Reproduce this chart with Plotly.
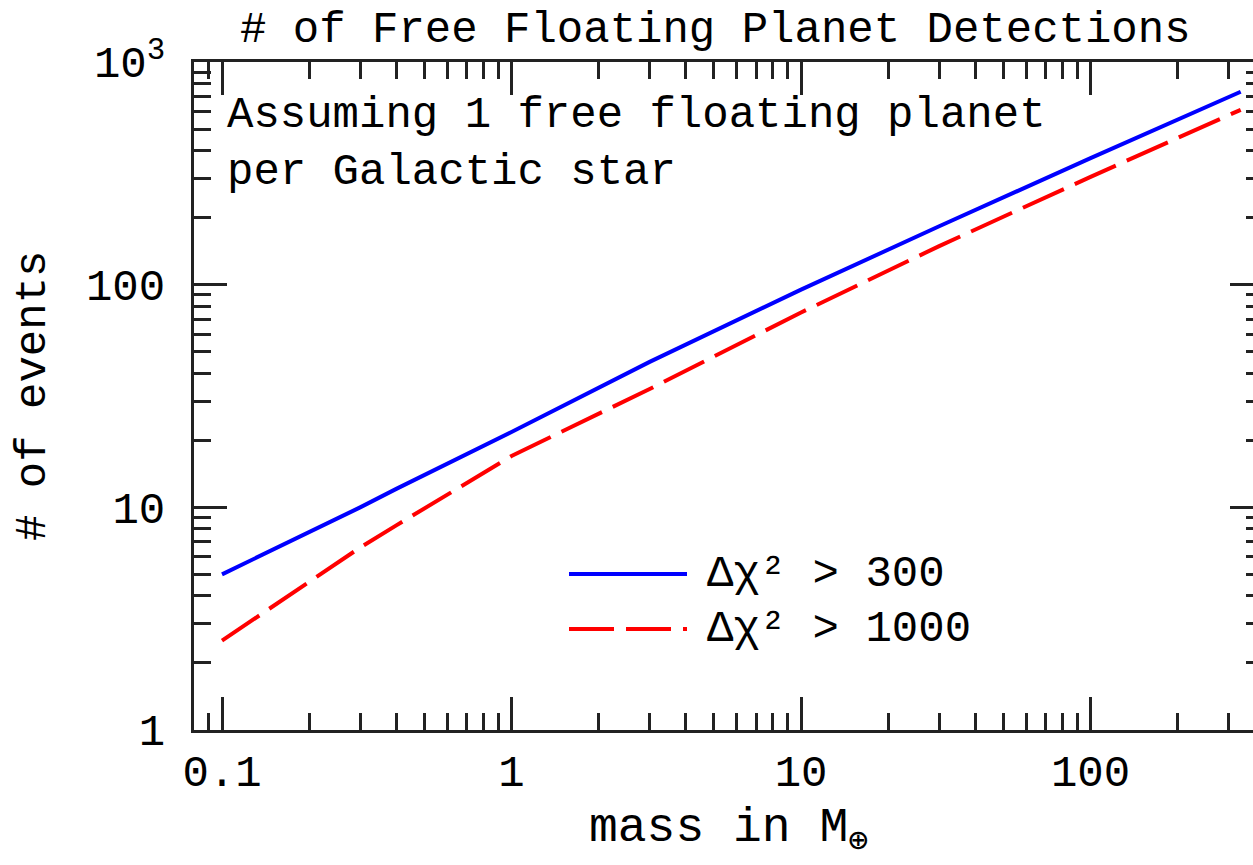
import plotly.graph_objects as go

# ---- data ----
mass = [0.1, 0.2, 0.3, 0.4, 1, 3, 10, 30, 100, 330]
events_300 = [5.0, 7.7, 10.0, 12.1, 21.8, 45, 95, 183, 370, 735]
events_1000 = [2.52, 4.6, 6.6, 8.3, 17, 34, 75, 149, 305, 610]

x_major = [0.1, 1, 10, 100]
x_major_text = ["0.1", "1", "10", "100"]
x_minor = [0.09] + [k * 0.1 for k in range(2, 10)] + [k for k in range(2, 10)] + \
          [k * 10 for k in range(2, 10)] + [200, 300]
y_major = [1, 10, 100, 1000]
y_major_text = ["1", "10", "100", "10<sup>3</sup>"]
y_minor = [k * m for m in (1, 10, 100) for k in range(2, 10)]

title = "# of Free Floating Planet Detections"
note1 = "Assuming 1 free floating planet"
note2 = "per Galactic star"
label1 = "Δχ² > 300"
label2 = "Δχ² > 1000"

FONT = "Liberation Mono, Courier New, monospace"
FS = 44

fig = go.Figure()
fig.add_trace(go.Scatter(x=mass, y=events_300, mode="lines",
                         line=dict(color="#0000ff", width=4), showlegend=False))
fig.add_trace(go.Scatter(x=mass, y=events_1000, mode="lines",
                         line=dict(color="#ff0000", width=4, dash="45px,12px"),
                         showlegend=False))
# helper trace so the right-side tick axis is drawn
fig.add_trace(go.Scatter(x=[1], y=[1], yaxis="y2", mode="markers",
                         marker=dict(opacity=0), hoverinfo="skip", showlegend=False))

xr = [-1.0967, 2.561]
yr = [0, 3]

fig.update_layout(
    width=1253, height=865,
    margin=dict(l=194, r=0, t=62, b=135),
    paper_bgcolor="white", plot_bgcolor="white",
    font=dict(family=FONT, size=FS, color="black"),
    showlegend=False,
    xaxis=dict(type="log", range=xr, showgrid=False, zeroline=False,
               showline=True, linecolor="#222", linewidth=3, mirror="ticks",
               ticks="inside", ticklen=33, tickwidth=3, tickcolor="#222",
               tickmode="array", tickvals=x_major, ticktext=x_major_text,
               ticklabelstandoff=0,
               minor=dict(ticks="inside", ticklen=17, tickwidth=3, tickcolor="#222",
                          tickmode="array", tickvals=x_minor, showgrid=False),
               tickfont=dict(family=FONT, size=FS)),
    yaxis=dict(type="log", range=yr, showgrid=False, zeroline=False,
               showline=True, linecolor="#222", linewidth=3, mirror=False,
               ticks="inside", ticklen=33, tickwidth=3, tickcolor="#222",
               tickmode="array", tickvals=y_major, ticktext=y_major_text,
               ticklabelstandoff=17,
               minor=dict(ticks="inside", ticklen=17, tickwidth=3, tickcolor="#222",
                          tickmode="array", tickvals=y_minor, showgrid=False),
               tickfont=dict(family=FONT, size=FS)),
    yaxis2=dict(type="log", range=yr, overlaying="y", side="right", anchor="x",
                showgrid=False, zeroline=False, showline=False,
                ticks="inside", ticklen=23, tickwidth=3, tickcolor="#222",
                tickmode="array", tickvals=y_major, showticklabels=False,
                minor=dict(ticks="inside", ticklen=7, tickwidth=3, tickcolor="#222",
                           tickmode="array", tickvals=y_minor, showgrid=False)),
)

W = 1253 - 194
H = 730 - 62
def px(x):
    return (x - 194) / W
def py(y):
    return (730 - y) / H

ann = [
    dict(text=title, x=px(715), y=py(30), xanchor="center", yanchor="middle", size=FS),
    dict(text=note1, x=px(225), y=py(115), xanchor="left", yanchor="middle", size=FS),
    dict(text=note2, x=px(225), y=py(172), xanchor="left", yanchor="middle", size=FS),
    dict(text="mass in M<sub>⊕</sub>", x=px(728), y=py(831), xanchor="center",
         yanchor="middle", size=48),
    dict(text="# of events", x=px(33), y=py(396), xanchor="center", yanchor="middle",
         textangle=-90, size=FS),
    dict(text=label1, x=px(705), y=py(574), xanchor="left", yanchor="middle", size=FS),
    dict(text=label2, x=px(705), y=py(629), xanchor="left", yanchor="middle", size=FS),
]
for a in ann:
    sz = a.pop("size")
    fig.add_annotation(xref="paper", yref="paper", showarrow=False,
                       font=dict(family=FONT, size=sz, color="black"), **a)

fig.add_shape(type="line", xref="paper", yref="paper",
              x0=px(569), x1=px(687), y0=py(574), y1=py(574),
              line=dict(color="#0000ff", width=4))
fig.add_shape(type="line", xref="paper", yref="paper",
              x0=px(569), x1=px(687), y0=py(629), y1=py(629),
              line=dict(color="#ff0000", width=4, dash="45px,12px"))

fig.write_html("out.html",
               config={"displayModeBar": False},
               post_script="document.body.style.margin='0';"
                           "document.body.style.overflow='hidden';")
